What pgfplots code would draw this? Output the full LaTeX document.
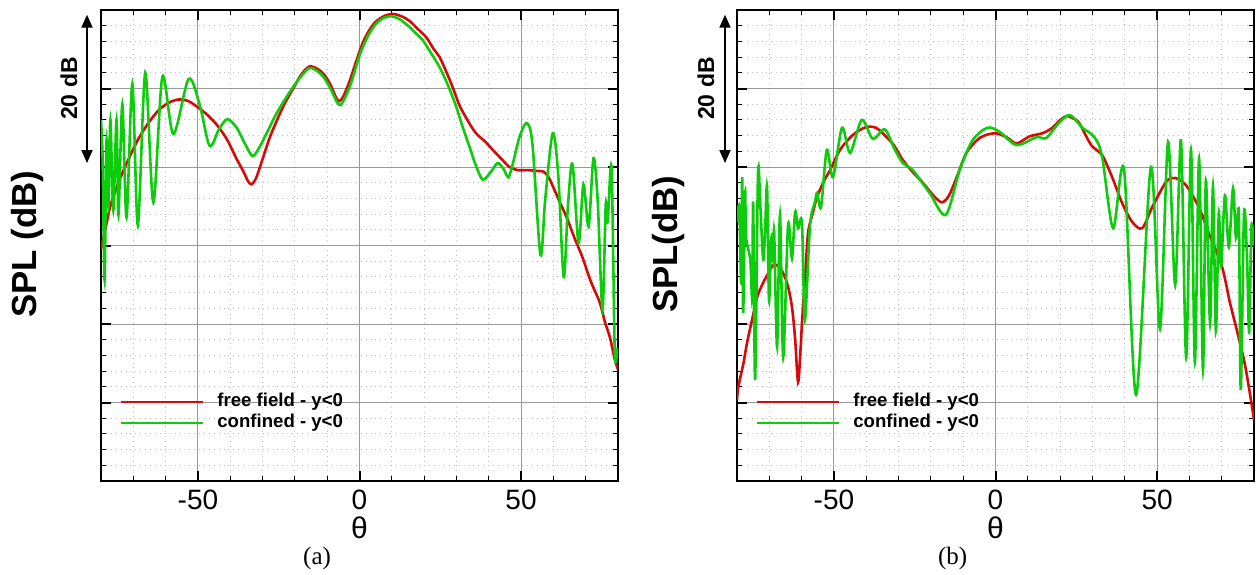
\documentclass[border=0pt]{standalone}
\usepackage{pgfplots}
\pgfplotsset{compat=1.18}
\usepackage{fontspec}
\setmainfont{Liberation Sans}
\newfontfamily\timesfont{Liberation Serif}
\usetikzlibrary{arrows.meta}

\definecolor{ffred}{RGB}{214,10,10}
\definecolor{cfgreen}{RGB}{12,204,12}

\pgfplotsset{
  splaxis/.style={
    scale only axis,
    width=258.5pt, height=235.5pt,
    anchor=south west,
    xmin=-80, xmax=80, ymin=0, ymax=60,
    xtick={-50,0,50}, xticklabels={-50,0,50},
    minor xtick={-70,-60,-40,-30,-20,-10,10,20,30,40,60,70},
    ytick={0,10,...,60}, yticklabels={},
    minor y tick num=4,
    tick align=inside,
    major tick length=5pt, minor tick length=2.5pt,
    major tick style={black, line width=1pt},
    minor tick style={black, line width=0.5pt},
    axis line style={black, line width=1.1pt},
    grid=both,
    major grid style={gray!80, line width=0.45pt, solid},
    minor grid style={gray!50, line width=0.45pt, dotted},
    xticklabel style={font=\fontsize{14}{14}\selectfont, inner sep=0pt, yshift=-4.5pt},
    clip mode=individual,
    legend cell align=left,
    legend image code/.code={\draw[##1, line width=1.2pt] (0pt,0pt) -- (41pt,0pt);},
    legend style={at={(0.0367,0.146)}, anchor=west, draw=none, fill=none,
      inner sep=0pt, outer sep=0pt, row sep=1pt, column sep=6.5pt,
      nodes={inner sep=0pt, anchor=west, text height=7pt, text depth=2.5pt,
        font=\bfseries\fontsize{9.3}{10}\selectfont}},
  },
  red line/.style={ffred, line width=1.3pt, smooth},
  green line/.style={cfgreen, line width=1.3pt, smooth},
}

\tikzset{dbarrow/.style={{Triangle[width=5.5pt,length=6.5pt]}-{Triangle[width=5.5pt,length=6.5pt]}, line width=0.9pt}}

\begin{document}
\begin{tikzpicture}
\useasboundingbox (-50.5pt,-46.5pt) rectangle (577.5pt,240.5pt);

% ---------------- (a)
\begin{axis}[splaxis, at={(0pt,0pt)}]
\addplot[red line] coordinates {
(-80,29.5) (-78.5,32.4) (-77,35.2) (-75,37.6) (-73,39.6) (-70,42.3) (-68,43.9)
(-65,45.8) (-62,47.3) (-59,48.2) (-56,48.6) (-53,48.4) (-50,47.6) (-47,46.6)
(-44,45.3) (-41,43.5) (-38,41) (-36,39.5) (-34.5,38.2) (-33.4,37.8) (-32,38.6)
(-30,41.0) (-28,43.5) (-25.5,46) (-23,48.2) (-20.5,50) (-18,51.8) (-15.5,52.8)
(-13,52.5) (-11,51.8) (-9,50.5) (-7.2,48.8) (-6.2,48.4) (-5,49) (-3,51)
(-1,53.5) (1,55.8) (3,57.4) (5,58.5) (7.5,59.2) (10.2,59.5) (13,59.2)
(15.5,58.6) (18,57.6) (20.7,56.5) (23,55) (24.8,54) (27,52) (28.8,50.2)
(31,47.8) (33.1,46.2) (35,44.9) (36.5,44.1) (39,43.2) (41.2,42.2) (44,41)
(46.4,40) (49,39.6) (52,39.6) (55,39.5) (57,39.4) (58.5,38.7) (60,37.4)
(62,35.5) (64.1,33.6) (66.5,31) (69,28.5) (71.5,25.5) (74.3,22.8) (76,20.2)
(77.5,18.3) (79,15.5) (80,14.2)
};
\addlegendentry{free field - y<0}
\addplot[green line] coordinates {
(-80,46) (-79.5,41) (-78.9,25.6) (-78.3,43.4) (-77.7,34.9) (-77.1,46)
(-76.2,34.5) (-75.2,46) (-74.6,33.9) (-73.4,48) (-72.1,33.6) (-70.3,50.6)
(-68.6,32.6) (-66.3,52) (-63.8,35.5) (-61,51.5) (-57.6,44.2) (-52.9,51.2)
(-49.5,48) (-46.4,42.7) (-43.5,44.8) (-40.9,46.1) (-38,45) (-35.5,43)
(-33.1,41.4) (-31,42.5) (-28.5,44.5) (-25.7,46.8) (-22,49.3) (-18.6,51.3)
(-15.5,52.6) (-13,52.2) (-11,51.4) (-9,50) (-7,48.3) (-5.9,47.9) (-4.5,48.8)
(-2.5,50.8) (0,54.2) (2.5,56.6) (5,58.2) (7.5,59) (9.9,59.2) (12.5,58.8)
(15,58) (17.5,57) (19.5,56.2) (22,54.6) (24.8,52.7) (27.5,50.3) (30,47.6)
(32,45) (34.1,42.5) (36,40.2) (38.1,38.4) (40.5,39.3) (42.7,40.5) (44.5,39.8)
(46.1,38.7) (47.5,40.5) (49.5,43.8) (51.7,45.6) (53.5,43) (56,28.8) (57.5,36)
(59.8,44.3) (61.5,39) (63.2,26) (64.5,35) (65.9,40.4) (67.8,30.3) (69.3,37.8)
(70.9,32.4) (72.4,41.1) (73.7,35.8) (75.2,21.8) (76.2,35.2) (76.8,33)
(78,39.9) (79,16.4) (79.8,17)
};
\addlegendentry{confined - y<0}
\draw[dbarrow] ([xshift=-7pt]axis cs:-80,40.5) -- ([xshift=-7pt]axis cs:-80,59.4);
\node[font=\bfseries\fontsize{11.5}{12}\selectfont, xshift=-16pt, rotate=90] at (axis cs:-80,50) {20 dB};
\node[font=\bfseries\fontsize{17.4}{20}\selectfont, xshift=-36.5pt, rotate=90] at (rel axis cs:0,0.503) {SPL (dB)};
\node[font=\fontsize{15}{15}\selectfont] at ([yshift=-23.5pt]rel axis cs:0.5,0) {θ};
\node[font=\timesfont\fontsize{12.5}{13}\selectfont] at ([yshift=-38.5pt]rel axis cs:0.418,0) {(a)};
\end{axis}

% ---------------- (b)
\begin{axis}[splaxis, at={(318pt,0pt)}]
\addplot[red line] coordinates {
(-80,10.3) (-79.6,12) (-78,15) (-76.9,17.6) (-75.3,20.6) (-73.8,23.4)
(-72.2,25) (-70.7,26.2) (-68.8,27.5) (-66.7,27.2) (-64.5,25.2) (-63,22.2)
(-62,18) (-61.1,12.6) (-60.3,17) (-59.9,20.1) (-59,25.5) (-58,31.6)
(-56.5,34.2) (-55.2,36.2) (-53,38.3) (-51.2,39.6) (-48.1,42.2) (-44.1,44.1)
(-40,45.1) (-37,45) (-34.9,44.3) (-31.5,42.8) (-28.7,40.9) (-25.5,39.3)
(-22.5,38) (-19.5,36.5) (-16.7,35.5) (-14.5,36.3) (-12,38.7) (-9,41.8)
(-4.9,43.7) (-0.3,44.3) (3.4,43.8) (6.5,43) (10.5,43.9) (14.5,44.3)
(17.6,45) (20,46) (22.2,46.5) (24,46.2) (25.9,45.6) (29.6,42.8) (33,41.5)
(36.1,38.7) (39.2,35.4) (42.3,33) (45.4,32.2) (48.5,34.9) (52.8,38.1)
(55.6,38.6) (58.9,37.7) (62.9,34.9) (66,31.6) (70.1,27.3) (72.5,22.8)
(74.7,19.2) (76.9,15.4) (78.4,12) (80,7.8)
};
\addlegendentry{free field - y<0}
\addplot[green line] coordinates {
(-80,33) (-79.3,34.9) (-78.7,25.2) (-78.4,38.7) (-78.1,21.4) (-77.5,36.7)
(-77.2,31.1) (-75.9,28.2) (-75.3,23.4) (-75,35.5) (-74.4,12.9) (-73.5,39.2)
(-72.8,35.2) (-71.9,28.2) (-71.3,32) (-70.7,37.5) (-70.1,23) (-69.4,31)
(-68.8,28.2) (-68.5,31.7) (-67.6,17.1) (-66.7,33.9) (-65.7,15.8) (-64.2,32.6)
(-63,28.4) (-62,34.3) (-61.1,32.2) (-59.9,32.9) (-59,20.5) (-57.4,32.6)
(-55.9,35.5) (-55.2,36.7) (-54,34.9) (-52.2,42.2) (-50.3,38.7) (-47.5,45)
(-45,41.8) (-41.4,46) (-38,43.6) (-34.3,44.8) (-31.5,42.5) (-28.7,40.5)
(-25.6,39.6) (-20.4,36.7) (-15.4,33.9) (-11.1,39.6) (-7.1,43.4) (-2.5,45)
(1.2,44.5) (6.5,42.8) (12.7,43.8) (15.7,43.7) (19.8,45.7) (23.1,46.6)
(26.9,45) (30.6,43.8) (33,41.3) (36.4,32.2) (39.8,39.6) (43.5,11) (48.1,40)
(50.9,19.4) (53.4,43.2) (55.6,25) (57.4,43.4) (59,15.7) (60.5,42.2)
(61.7,15.1) (63,41.1) (64.2,14.1) (65.1,38.3) (66.4,20.1) (67.3,37.5)
(68.2,19.1) (69.1,34.1) (69.8,27.3) (71,36.4) (72.2,29.8) (73.5,37.3)
(74.4,31) (75.3,34.1) (75.9,11.6) (76.9,34) (77.8,29) (78.5,18.9)
(79.2,32.4) (80,30)
};
\addlegendentry{confined - y<0}
\draw[dbarrow] ([xshift=-6pt]axis cs:-80,40.5) -- ([xshift=-6pt]axis cs:-80,59.4);
\node[font=\bfseries\fontsize{11.5}{12}\selectfont, xshift=-15.5pt, rotate=90] at (axis cs:-80,50) {20 dB};
\node[font=\bfseries\fontsize{17.4}{20}\selectfont, xshift=-34.5pt, rotate=90] at (rel axis cs:0,0.503) {SPL(dB)};
\node[font=\fontsize{15}{15}\selectfont] at ([yshift=-23.5pt]rel axis cs:0.5,0) {θ};
\node[font=\timesfont\fontsize{12.5}{13}\selectfont] at ([yshift=-38.5pt]rel axis cs:0.417,0) {(b)};
\end{axis}
\end{tikzpicture}
\end{document}
